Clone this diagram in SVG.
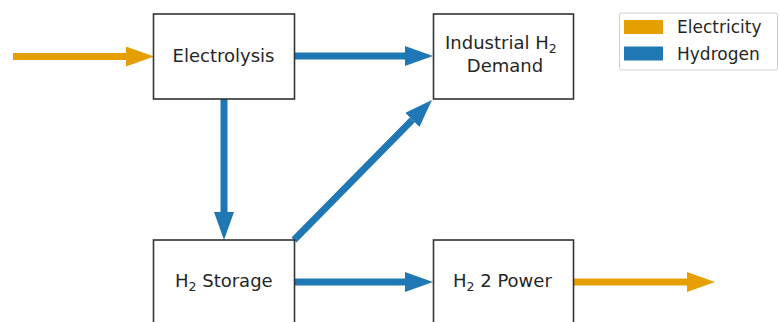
<svg xmlns="http://www.w3.org/2000/svg" width="779" height="322" viewBox="0 0 779 322">
<style>
text { font-family: "DejaVu Sans", "Liberation Sans", sans-serif; fill: #262626; }
.lbl { font-size: 18px; }
.leg { font-size: 17px; }
.sub { font-size: 12.5px; }
.box { fill: #ffffff; stroke: #333333; stroke-width: 1.6; }
.elec { stroke: #e69f00; stroke-width: 7; fill: none; }
.h2 { stroke: #1f77b4; stroke-width: 7; fill: none; }
</style>
<defs>
<marker id="headE" viewBox="0 -10 28 20" refX="0" refY="0" markerWidth="28" markerHeight="20" markerUnits="userSpaceOnUse" orient="auto">
<path d="M0,-10 L28,0 L0,10 Z" fill="#e69f00"/>
</marker>
<marker id="headH" viewBox="0 -10 28 20" refX="0" refY="0" markerWidth="28" markerHeight="20" markerUnits="userSpaceOnUse" orient="auto">
<path d="M0,-10 L28,0 L0,10 Z" fill="#1f77b4"/>
</marker>
</defs>
<rect width="779" height="322" fill="#ffffff"/>
<g id="connectors">
<line class="elec" x1="13" y1="56.5" x2="126" y2="56.5" marker-end="url(#headE)"/>
<line class="h2" x1="294" y1="56" x2="405" y2="56" marker-end="url(#headH)"/>
<line class="h2" x1="224" y1="99" x2="224" y2="212" marker-end="url(#headH)"/>
<line class="h2" x1="294" y1="240" x2="412.3" y2="119.9" marker-end="url(#headH)"/>
<line class="h2" x1="294" y1="282" x2="405" y2="282" marker-end="url(#headH)"/>
<line class="elec" x1="573" y1="282" x2="687" y2="282" marker-end="url(#headE)"/>
</g>
<g id="electrolysis">
<rect class="box" x="153.5" y="14" width="141" height="85"/>
<text class="lbl" x="223.5" y="62" text-anchor="middle">Electrolysis</text>
</g>
<g id="industrial">
<rect class="box" x="433.5" y="14" width="140" height="85"/>
<text class="lbl" x="445" y="49">Industrial H<tspan class="sub" dy="4">2</tspan></text>
<text class="lbl" x="505" y="71.5" text-anchor="middle">Demand</text>
</g>
<g id="storage">
<rect class="box" x="153.5" y="240" width="141" height="85"/>
<text class="lbl" x="175" y="287">H<tspan class="sub" dy="4">2</tspan><tspan dy="-4"> Storage</tspan></text>
</g>
<g id="h2power">
<rect class="box" x="433.5" y="240" width="140" height="85"/>
<text class="lbl" x="453" y="287">H<tspan class="sub" dy="4">2</tspan><tspan dy="-4"> 2 Power</tspan></text>
</g>
<g id="legend">
<rect x="619.5" y="13" width="158" height="57" rx="2" fill="#ffffff" stroke="#d0d0d0" stroke-width="1"/>
<rect x="624" y="20" width="39" height="14" fill="#e69f00"/>
<rect x="624" y="46.5" width="39" height="14" fill="#1f77b4"/>
<text class="leg" x="677" y="33.3">Electricity</text>
<text class="leg" x="677" y="60">Hydrogen</text>
</g>
</svg>
